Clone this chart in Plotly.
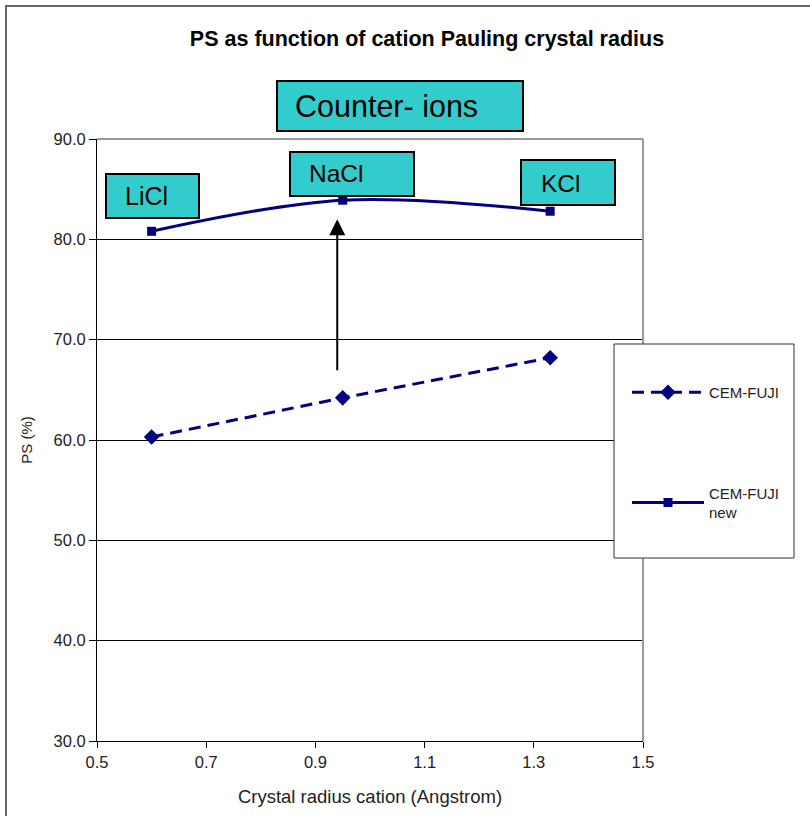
import plotly.graph_objects as go

radius = [0.60, 0.95, 1.33]
ps_fuji = [60.3, 64.2, 68.2]
ps_fuji_new = [80.8, 83.9, 82.8]
ion_labels = ["LiCl", "NaCl", "KCl"]
y_ticks = [30, 40, 50, 60, 70, 80, 90]
x_ticks = [0.5, 0.7, 0.9, 1.1, 1.3, 1.5]

NAVY = "#000080"
TEAL = "#33CCCC"
FONT = "Liberation Sans, Arial, sans-serif"
TXT = "#222222"

W, H = 810, 816
L, R, T, B = 97, 167, 139, 75
pw, ph = W - L - R, H - T - B


def px(x):
    return (x - L) / pw


def py(y):
    return (H - B - y) / ph


fig = go.Figure()
fig.add_trace(go.Scatter(
    x=radius, y=ps_fuji, name="CEM-FUJI", mode="lines+markers",
    line=dict(color=NAVY, width=3, dash="12px,7px"),
    marker=dict(symbol="diamond", size=12, color=NAVY),
    legendgroup="a",
))
fig.add_trace(go.Scatter(
    x=radius, y=ps_fuji_new, name="CEM-FUJI<br>new", mode="lines+markers",
    line=dict(color=NAVY, width=3, shape="spline"),
    marker=dict(symbol="square", size=9, color=NAVY),
    legendgroup="b",
))

annotations = []
shapes = []

# Arrow
annotations.append(dict(
    x=0.94, y=82.0, ax=0.94, ay=66.8, xref="x", yref="y", axref="x", ayref="y",
    showarrow=True, arrowhead=2, arrowsize=1.6, arrowwidth=2, arrowcolor="black", text="",
))


def box(text, x0, x1, y0, y1, tx, ty, size):
    shapes.append(dict(type="rect", xref="paper", yref="paper",
                       x0=px(x0), x1=px(x1), y0=py(y1), y1=py(y0),
                       fillcolor=TEAL, line=dict(color="black", width=2), layer="above"))
    annotations.append(dict(
        x=px(tx), y=py(ty), xref="paper", yref="paper", text=text, showarrow=False,
        xanchor="left", yanchor="middle",
        font=dict(family=FONT, size=size, color="black"),
    ))


box("Counter- ions", 277, 523, 81, 131, 293, 106, 30.5)
box(ion_labels[0], 106, 199, 174, 218, 123, 196, 25)
box(ion_labels[1], 290, 414, 152, 196, 307, 173, 24.5)
box(ion_labels[2], 521, 615, 160, 205, 539, 183, 24.5)

# plot-area top/right border (grey)
shapes.append(dict(type="line", xref="paper", yref="paper", x0=0, x1=1, y0=1, y1=1,
                   line=dict(color="#999", width=2)))
shapes.append(dict(type="line", xref="paper", yref="paper", x0=1, x1=1, y0=0, y1=1,
                   line=dict(color="#999", width=2)))
# outer chart frame
shapes.append(dict(type="rect", xref="paper", yref="paper", x0=px(6), x1=px(830),
                   y0=py(840), y1=py(6), line=dict(color="#666", width=2), layer="below"))
# legend frame
shapes.append(dict(type="rect", xref="paper", yref="paper", x0=px(614), x1=px(794),
                   y0=py(558), y1=py(344), line=dict(color="#333", width=1),
                   fillcolor="white", layer="above"))

fig.update_layout(
    width=W, height=H,
    margin=dict(l=L, r=R, t=T, b=B, pad=0),
    paper_bgcolor="white", plot_bgcolor="white",
    font=dict(family=FONT, size=16, color=TXT),
    title=dict(text="<b>PS as function of cation Pauling crystal radius</b>",
               xref="paper", x=px(427), xanchor="center", y=1 - 38 / H, yanchor="middle",
               font=dict(family=FONT, size=21.5, color="black")),
    xaxis=dict(range=[0.5, 1.5], tickvals=x_ticks, ticktext=[f"{v:.1f}" for v in x_ticks],
               showgrid=False, showline=True, linecolor="black", linewidth=1,
               ticks="outside", ticklen=6, tickcolor="black", zeroline=False,
               title=dict(text="Crystal radius cation (Angstrom)", standoff=20,
                          font=dict(family=FONT, size=18.5, color=TXT)),
               tickfont=dict(family=FONT, size=16.5, color=TXT)),
    yaxis=dict(range=[30, 90], tickvals=y_ticks, ticktext=[f"{v:.1f}" for v in y_ticks],
               showgrid=True, gridcolor="black", gridwidth=1,
               showline=True, linecolor="black", linewidth=1,
               ticks="outside", ticklen=7, tickcolor="black", zeroline=False,
               title=dict(text="PS (%)", standoff=17,
                          font=dict(family=FONT, size=15, color=TXT)),
               tickfont=dict(family=FONT, size=16.5, color=TXT)),
    legend=dict(x=px(627), y=py(376), xanchor="left", yanchor="top",
                borderwidth=0, bgcolor="rgba(0,0,0,0)",
                font=dict(family=FONT, size=15, color=TXT),
                tracegroupgap=78, itemwidth=72, entrywidth=170,
                traceorder="grouped"),
    showlegend=True,
    annotations=annotations,
    shapes=shapes,
)

fig.write_html("out.html")
